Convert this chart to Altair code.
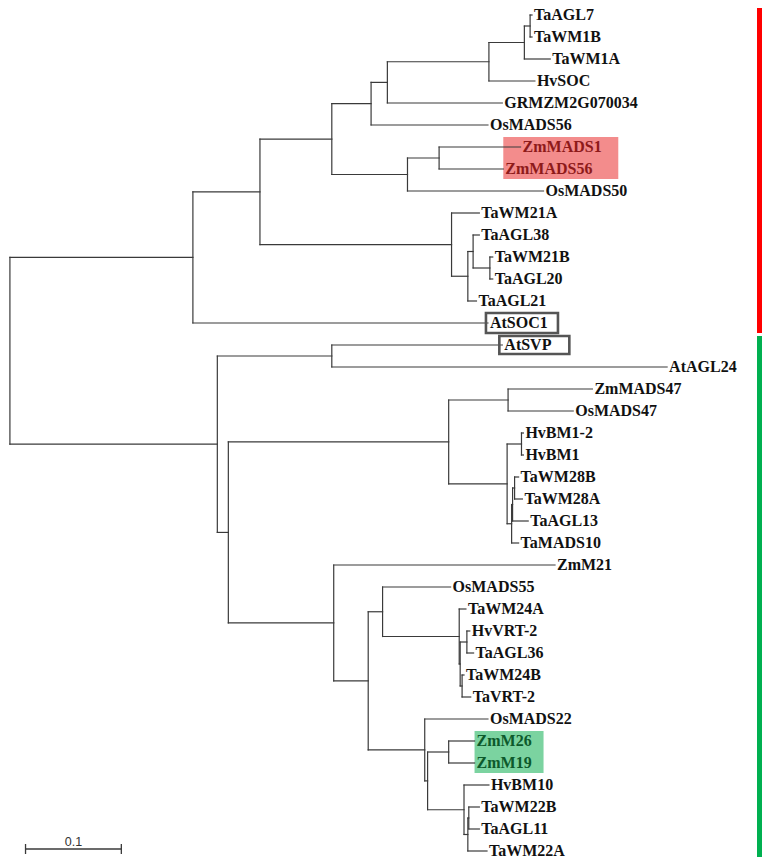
import altair as alt
import pandas as pd

# ---------------- data ----------------
leaf_names = ["TaAGL7", "TaWM1B", "TaWM1A", "HvSOC", "GRMZM2G070034", "OsMADS56",
              "ZmMADS1", "ZmMADS56", "OsMADS50", "TaWM21A", "TaAGL38", "TaWM21B",
              "TaAGL20", "TaAGL21", "AtSOC1", "AtSVP", "AtAGL24", "ZmMADS47",
              "OsMADS47", "HvBM1-2", "HvBM1", "TaWM28B", "TaWM28A", "TaAGL13",
              "TaMADS10", "ZmM21", "OsMADS55", "TaWM24A", "HvVRT-2", "TaAGL36",
              "TaWM24B", "TaVRT-2", "OsMADS22", "ZmM26", "ZmM19", "HvBM10",
              "TaWM22B", "TaAGL11", "TaWM22A"]
# cumulative distance from the root (substitutions per site)
leaf_depth = [0.545, 0.545, 0.564, 0.548, 0.514, 0.499,
              0.533, 0.515, 0.557, 0.490, 0.490, 0.504,
              0.504, 0.487, 0.499, 0.514, 0.686, 0.608,
              0.588, 0.536, 0.536, 0.531, 0.535, 0.541,
              0.531, 0.569, 0.460, 0.476, 0.480, 0.484,
              0.474, 0.481, 0.499, 0.485, 0.485, 0.500,
              0.490, 0.490, 0.498]

node_names = ["root", "N1", "N2", "N3", "N4", "N5", "N6", "N7", "N8", "N9", "N10",
              "N11", "N12", "N13", "N14", "N15", "N16", "N17", "N18", "N19", "N20",
              "N21", "N22", "N23", "N24", "N25", "N26", "N27", "N28", "N29", "N30",
              "N31", "N32", "N33", "N34", "N35", "N36", "N37"]
node_depth = [0.000, 0.191, 0.261, 0.336, 0.377, 0.394, 0.500, 0.537, 0.543, 0.415, 0.448,
              0.461, 0.478, 0.4835, 0.501, 0.2165, 0.336, 0.228, 0.458, 0.520, 0.519,
              0.534, 0.5237, 0.5247, 0.5268, 0.338, 0.374, 0.389, 0.469, 0.470, 0.477,
              0.472, 0.433, 0.436, 0.458, 0.474, 0.478, 0.479]
node_child_a = ["N1", "N2", "N3", "N4", "N5", "N6", "N7", "N8", "TaAGL7", "N10", "ZmMADS1",
                "TaWM21A", "N13", "TaAGL38", "TaWM21B", "N16", "AtSVP", "N18", "N19", "ZmMADS47", "N21",
                "HvBM1-2", "N23", "N24", "TaWM28B", "ZmM21", "N27", "OsMADS55", "TaWM24A", "N30", "HvVRT-2",
                "TaWM24B", "OsMADS22", "N34", "ZmM26", "HvBM10", "N37", "TaWM22B"]
node_child_b = ["N15", "AtSOC1", "N11", "N9", "OsMADS56", "GRMZM2G070034", "HvSOC", "TaWM1A", "TaWM1B", "OsMADS50", "ZmMADS56",
                "N12", "TaAGL21", "N14", "TaAGL20", "N17", "AtAGL24", "N25", "N20", "OsMADS47", "N22",
                "HvBM1", "TaMADS10", "TaAGL13", "TaWM28A", "N26", "N32", "N28", "N29", "N31", "TaAGL36",
                "TaVRT-2", "N33", "N35", "ZmM19", "N36", "TaWM22A", "TaAGL11"]

red_highlight = ["ZmMADS1", "ZmMADS56"]
green_highlight = ["ZmM26", "ZmM19"]
boxed = ["AtSOC1", "AtSVP"]
red_clade = ["TaAGL7", "AtSOC1"]      # first / last leaf of the clade bar
green_clade = ["AtSVP", "TaWM22A"]
scale_bar_length = 0.1

# ---------------- layout ----------------
depth = dict(zip(leaf_names, leaf_depth))
depth.update(dict(zip(node_names, node_depth)))
ypos = {n: i for i, n in enumerate(leaf_names)}
kids = {n: (a, b) for n, a, b in zip(node_names, node_child_a, node_child_b)}


def get_y(n):
    if n not in ypos:
        a, b = kids[n]
        ypos[n] = (get_y(a) + get_y(b)) / 2
    return ypos[n]


get_y("root")

seg_rows = []
for n, (a, b) in kids.items():
    seg_rows.append(dict(x=depth[n], x2=depth[n], y=ypos[a], y2=ypos[b]))
    for c in (a, b):
        seg_rows.append(dict(x=depth[n], x2=depth[c], y=ypos[c], y2=ypos[c]))
segs = pd.DataFrame(seg_rows)


def group(n):
    if n in red_highlight:
        return "red"
    if n in green_highlight:
        return "green"
    if n in boxed:
        return "boxed"
    return "plain"


leaves = pd.DataFrame({"name": leaf_names, "depth": leaf_depth,
                       "y": list(range(len(leaf_names)))})
leaves["group"] = [group(n) for n in leaf_names]

W, H = 755, 849
ROW = 22.0
xs = alt.Scale(domain=[-0.002, -0.002 + W / 958], nice=False, zero=False)
ys = alt.Scale(domain=[-7 / ROW, -7 / ROW + H / ROW], reverse=True, nice=False, zero=False)

X = lambda f: alt.X(f, type="quantitative", scale=xs, axis=None)
Y = lambda f: alt.Y(f, type="quantitative", scale=ys, axis=None)

LINE = "#3a3a3a"

branches = alt.Chart(segs).mark_rule(color=LINE, strokeWidth=1.2, strokeCap="square").encode(
    x=X("x"), x2="x2", y=Y("y"), y2="y2")


def hl_rect(names, color, width, opacity):
    sub = leaves[leaves["name"].isin(names)]
    df = pd.DataFrame({"x": [sub["depth"].min()], "y": [sub["y"].min()], "y2": [sub["y"].max()]})
    return alt.Chart(df).mark_rect(color=color, opacity=opacity, x2Offset=width,
                                   yOffset=-10, y2Offset=10).encode(
        x=X("x"), x2="x", y=Y("y"), y2="y2")


red_box = hl_rect(red_highlight, "#f28686", 115, 0.95)
green_box = hl_rect(green_highlight, "#74d19b", 69, 0.95)

box_df = leaves[leaves["group"] == "boxed"].copy()
boxes_soc = alt.Chart(box_df[box_df["name"] == "AtSOC1"]).mark_rect(
    fillOpacity=0, stroke="#555555", strokeWidth=2.6, xOffset=-2, x2Offset=70,
    yOffset=-10, y2Offset=10).encode(x=X("depth"), x2="depth", y=Y("y"), y2="y")
boxes_svp = alt.Chart(box_df[box_df["name"] == "AtSVP"]).mark_rect(
    fillOpacity=0, stroke="#555555", strokeWidth=2.6, xOffset=-3, x2Offset=67,
    yOffset=-9, y2Offset=9).encode(x=X("depth"), x2="depth", y=Y("y"), y2="y")

labels = alt.Chart(leaves).mark_text(
    align="left", baseline="middle", dx=2, font="Liberation Serif",
    fontSize=16, fontWeight="bold").encode(
    x=X("depth"), y=Y("y"), text="name:N",
    color=alt.Color("group:N", legend=None,
                    scale=alt.Scale(domain=["plain", "boxed", "red", "green"],
                                    range=["#111111", "#111111", "#8e1a1a", "#0d5a2c"])))

bar_df = pd.DataFrame({
    "clade": ["red", "green"],
    "y": [ypos[red_clade[0]], ypos[green_clade[0]]],
    "y2": [ypos[red_clade[1]], ypos[green_clade[1]]],
})
red_bar = alt.Chart(bar_df[bar_df.clade == "red"]).mark_rect(
    color="#ff0000", yOffset=-12, y2Offset=10).encode(
    x=alt.value(W - 6), x2=alt.value(W - 1), y=Y("y"), y2="y2")
green_bar = alt.Chart(bar_df[bar_df.clade == "green"]).mark_rect(
    color="#00b050", yOffset=-9, y2Offset=12).encode(
    x=alt.value(W - 6), x2=alt.value(W - 1), y=Y("y"), y2="y2")

sb_x0 = 0.0163
sb_y = 841 / ROW - 7 / ROW
sb_df = pd.DataFrame({"x": [sb_x0], "x2": [sb_x0 + scale_bar_length], "y": [sb_y],
                      "label": [str(scale_bar_length)]})
sb_line = alt.Chart(sb_df).mark_rule(color=LINE, strokeWidth=1.3).encode(
    x=X("x"), x2="x2", y=Y("y"))
sb_ticks = alt.Chart(pd.DataFrame({"x": [sb_x0, sb_x0 + scale_bar_length], "y": [sb_y]*2})).mark_rule(
    color=LINE, strokeWidth=1.3, yOffset=-5, y2Offset=5).encode(
    x=X("x"), y=Y("y"), y2="y")
sb_label = alt.Chart(sb_df).transform_calculate(xm="(datum.x + datum.x2) / 2").mark_text(
    baseline="alphabetic", dy=-3, font="Liberation Sans", fontSize=12.5, color="#333333").encode(
    x=X("xm"), y=Y("y"), text="label:N")

chart = alt.layer(red_box, green_box, branches, boxes_soc, boxes_svp, labels,
                  red_bar, green_bar, sb_line, sb_ticks, sb_label).properties(
    width=W, height=H, autosize=alt.AutoSizeParams(type="none"), padding=0
).configure_view(stroke=None)

chart.save("out.html", embed_options={"renderer": "svg", "actions": False})
